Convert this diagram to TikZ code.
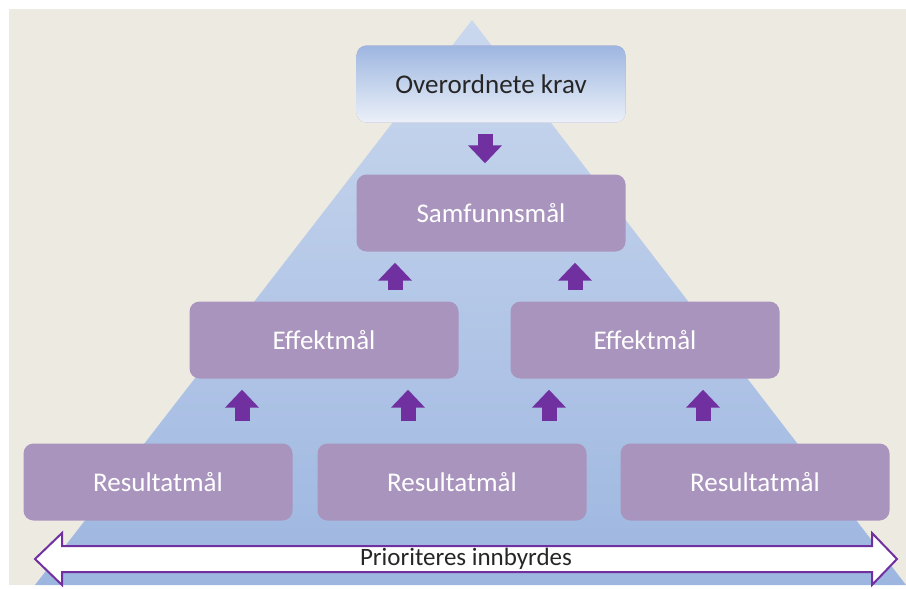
\documentclass[tikz,border=0pt]{standalone}
\usepackage{fontspec}
\setmainfont{Carlito}
\usetikzlibrary{arrows.meta}
\definecolor{beige}{HTML}{EDEAE1}
\definecolor{mauve}{HTML}{A994BD}
\definecolor{pil}{HTML}{7030A0}
\definecolor{blaa}{HTML}{9DB6E0}
\definecolor{lysblaa}{HTML}{CAD8EE}
\begin{document}
\begin{tikzpicture}[x=1pt,y=-1pt,
    maal/.style={rounded corners=10pt,fill=mauve,text=white,minimum width=269pt,minimum height=77pt,font=\fontsize{27}{32}\selectfont},
    opp/.style={draw=pil,line width=15pt,-{Triangle[length=18pt,width=33pt]},shorten <=11pt,shorten >=11pt}]
  \useasboundingbox (0,0) rectangle (906,589);
  \fill[beige] (9,9) rectangle (906,585);
  % pyramiden
  \shade[top color=lysblaa,bottom color=blaa] (472,20) -- (906,585) -- (35,585) -- cycle;
  % boksene
  \node[maal,top color=blaa,bottom color=blaa!20!white,text=black!85] (krav) at (491,84) {Overordnete krav};
  \node[maal] (samf) at (491,213) {Samfunnsmål};
  \node[maal] (eff1) at (324,340) {Effektmål};
  \node[maal] (eff2) at (645,340) {Effektmål};
  \node[maal] (res1) at (158,482) {Resultatmål};
  \node[maal] (res2) at (452,482) {Resultatmål};
  \node[maal] (res3) at (755,482) {Resultatmål};
  % pilene
  \draw[opp] (krav.south -| 485,0) -- (samf.north -| 485,0);
  \draw[opp] (eff1.north -| 395,0) -- (samf.south -| 395,0);
  \draw[opp] (eff2.north -| 575,0) -- (samf.south -| 575,0);
  \draw[opp,shorten <=22pt] (res1.north -| 242,0) -- (eff1.south -| 242,0);
  \draw[opp,shorten <=22pt] (res2.north -| 408,0) -- (eff1.south -| 408,0);
  \draw[opp,shorten <=22pt] (res2.north -| 549,0) -- (eff2.south -| 549,0);
  \draw[opp,shorten <=22pt] (res3.north -| 703,0) -- (eff2.south -| 703,0);
  % dobbeltpil
  \filldraw[fill=white,draw=pil,line width=2pt,line join=miter]
    (35,559) -- (62,533) -- (62,546) -- (872,546) -- (872,533) -- (897,559)
    -- (872,585) -- (872,572) -- (62,572) -- (62,585) -- cycle;
  \node[text=black!85,font=\fontsize{25}{29}\selectfont] (prio) at (466,559) {Prioriteres innbyrdes};
\end{tikzpicture}
\end{document}
